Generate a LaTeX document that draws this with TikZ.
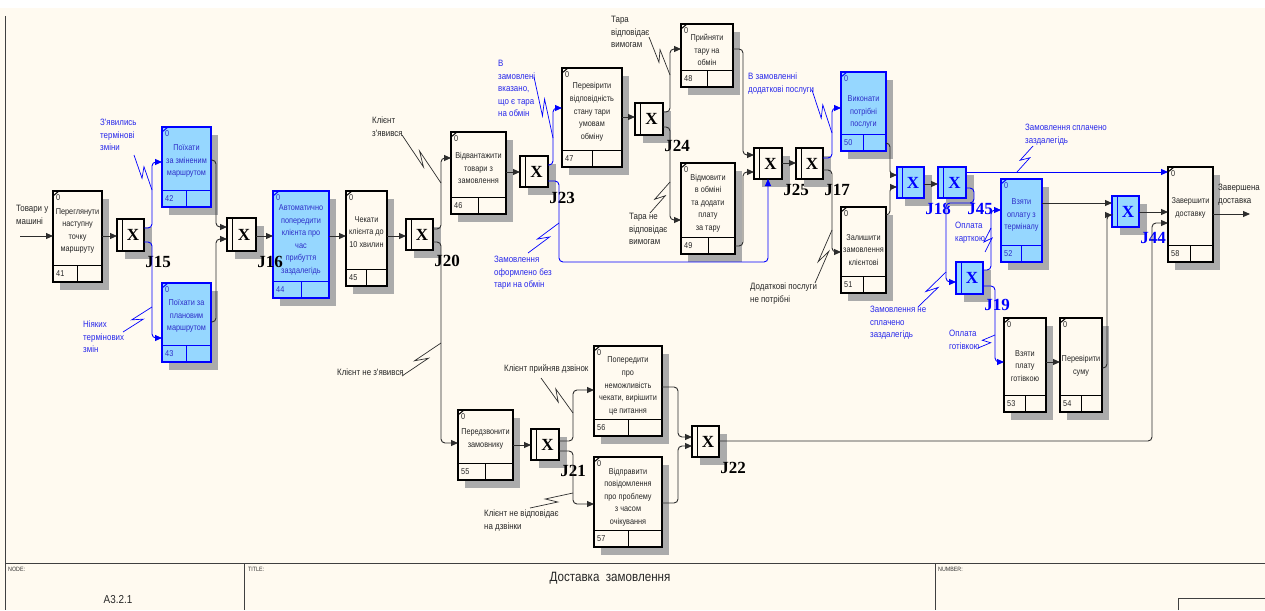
\documentclass[tikz,border=0pt]{standalone}
\usepackage{fontspec}
\setmainfont{Liberation Sans}
\newfontfamily\nfont{Liberation Sans}[FakeStretch=0.86]
\newfontfamily\jfont{Liberation Serif}
\usetikzlibrary{arrows.meta,calc,fit}

\definecolor{paper}{RGB}{255,250,240}
\definecolor{lineblk}{RGB}{45,45,45}
\definecolor{idblue}{RGB}{0,0,255}
\definecolor{boxblue}{RGB}{150,215,255}
\definecolor{txtblue}{RGB}{45,45,200}
\definecolor{lblblue}{RGB}{40,40,235}

\tikzset{
  frame/.style={draw=black!75, line width=1pt},
  shadowfill/.style={fill=black!33},
  uobplain/.style={draw=black, line width=1.2pt, fill=paper, inner sep=0pt, outer sep=0pt},
  uobblue/.style={draw=idblue, line width=1.2pt, fill=boxblue, inner sep=0pt, outer sep=0pt},
  uoblnplain/.style={draw=black, line width=1pt},
  uoblnblue/.style={draw=idblue, line width=1pt},
  uobtxtplain/.style={inner sep=0pt, font=\nfont\fontsize{8.5}{12.6}\selectfont, text=black!85},
  uobtxtblue/.style={inner sep=0pt, font=\nfont\fontsize{8.5}{12.6}\selectfont, text=txtblue},
  jnplain/.style={draw=black, line width=1.3pt, fill=paper, inner sep=0pt, outer sep=0pt},
  jnblue/.style={draw=idblue, line width=1.3pt, fill=boxblue, inner sep=0pt, outer sep=0pt},
  jxplain/.style={font=\jfont\bfseries\fontsize{17}{17}\selectfont, text=black, inner sep=0pt},
  jxblue/.style={font=\jfont\bfseries\fontsize{17}{17}\selectfont, text=idblue, inner sep=0pt},
  conn/.style={draw=lineblk, line width=0.9pt, rounded corners=4pt},
  bconn/.style={draw=idblue, line width=0.9pt, rounded corners=4pt},
  arr/.style={-{Triangle[length=7pt,width=6pt]}},
  lbl/.style={inner sep=0pt, align=left, anchor=north west, font=\nfont\fontsize{9.2}{12.5}\selectfont, text=black!85},
  blbl/.style={lbl, text=lblblue},
  sq/.style={draw=lineblk, line width=0.7pt},
  bsq/.style={draw=idblue, line width=0.7pt},
  hdr/.style={inner sep=0pt, anchor=north west, font=\nfont\fontsize{6.2}{7}\selectfont, text=black!80},
}

% unit of behaviour: [style]{name}{x1}{y1}{x2}{y2}{number}{text centre y}{text}
\newcommand\uob[9][plain]{%
  \fill[shadowfill] (#3+7,#4+8) rectangle (#5+7,#6+8);
  \node[uob#1, fit={(#3,#4) (#5,#6)}] (#2) {};
  \draw[uobln#1] (#3,#6-17) -- (#5,#6-17) ({(#3+#5)/2},#6-17) -- ({(#3+#5)/2},#6);
  \draw[uobln#1] (#3,#4+5) -- (#3+6,#4);
  \node[uobtxt#1, anchor=north west] at (#3+3,#4+3) {0};
  \node[uobtxt#1, anchor=west] at (#3+3,#6-8.5) {#7};
  \node[uobtxt#1, align=center] at ({(#3+#5)/2},#8) {#9};
}

% exclusive-or junction: [style]{name}{x1}{y1}{x2}{y2}{label}
\newcommand\junc[7][plain]{%
  \fill[shadowfill] (#3+8,#4+8) rectangle (#5+8,#6+8);
  \node[jn#1, fit={(#3,#4) (#5,#6)}] (#2) {};
  \draw[uobln#1] (#3+5,#4) -- (#3+5,#6);
  \node[jx#1] at ({(#3+#5)/2+2.5},{(#4+#6)/2}) {X};
  \node[jx#1] at (#5+14,#6+11) {#7};
}

% lightning-style leader from a label to its link
\newcommand\zz[3]{%
  \draw[#1] (#2) -- ($(#2)!0.62!(#3)!3.5pt!-90:(#3)$) -- ($(#2)!0.38!(#3)!3.5pt!90:(#3)$) -- (#3);
}

\begin{document}
\begin{tikzpicture}[x=1pt,y=-1pt]
\useasboundingbox (0,0) rectangle (1265,610);
\fill[white] (0,0) rectangle (1265,610);
\fill[paper] (0,8) rectangle (1265,610);

% frame and title block
\draw[frame] (5,16) -- (5,610);
\draw[frame] (5,563) -- (1265,563);
\draw[frame] (244,563) -- (244,610);
\draw[frame] (935,563) -- (935,610);
\draw[frame] (1178,610) -- (1178,598) -- (1265,598);
\node[hdr] (hnode) at (8,567) {NODE:};
\node[hdr] (htitle) at (248,567) {TITLE:};
\node[hdr] (hnum) at (938,567) {NUMBER:};
\node[inner sep=0pt, font=\nfont\fontsize{11.5}{12}\selectfont, text=black!85] (nodeid) at (118,600) {A3.2.1};
\node[inner sep=0pt, font=\nfont\fontsize{13.5}{14}\selectfont, text=black!85] (title) at (610,578) {Доставка\ \ замовлення};

% units of behaviour
\uob{b41}{53}{191}{102}{282}{41}{231}{Переглянути\\наступну\\точку\\маршруту}
\uob[blue]{b42}{162}{127}{211}{207}{42}{161}{Поїхати\\за зміненим\\маршрутом}
\uob[blue]{b43}{162}{283}{211}{362}{43}{316}{Поїхати за\\плановим\\маршрутом}
\uob[blue]{b44}{273}{191}{329}{298}{44}{240}{Автоматично\\попередити\\клієнта про\\час\\прибуття\\заздалегідь}
\uob{b45}{346}{191}{387}{286}{45}{232}{Чекати\\клієнта до\\10 хвилин}
\uob{b46}{451}{132}{506}{214}{46}{168}{Відвантажити\\товари з\\замовлення}
\uob{b47}{562}{68}{622}{167}{47}{112}{Перевірити\\відповідність\\стану тари\\умовам\\обміну}
\uob{b48}{681}{24}{733}{87}{48}{50}{Прийняти\\тару на\\обмін}
\uob{b49}{681}{163}{735}{254}{49}{203}{Відмовити\\в обміні\\та додати\\плату\\за тару}
\uob[blue]{b50}{841}{72}{886}{151}{50}{112}{Виконати\\потрібні\\послуги}
\uob{b51}{841}{207}{886}{293}{51}{250}{Залишити\\замовлення\\клієнтові}
\uob[blue]{b52}{1001}{179}{1042}{262}{52}{215}{Взяти\\оплату з\\терміналу}
\uob{b53}{1004}{318}{1046}{412}{53}{366}{Взяти\\плату\\готівкою}
\uob{b54}{1060}{318}{1102}{412}{54}{366}{Перевірити\\суму}
\uob{b55}{458}{410}{513}{480}{55}{439}{Передзвонити\\замовнику}
\uob{b56}{594}{346}{662}{436}{56}{386}{Попередити\\про\\неможливість\\чекати, вирішити\\це питання}
\uob{b57}{594}{457}{662}{547}{57}{497}{Відправити\\повідомлення\\про проблему\\з часом\\очікування}
\uob{b58}{1168}{167}{1213}{262}{58}{208}{Завершити\\доставку}

% junctions
\junc{j15}{117}{219}{144}{251}{J15}
\junc{j16}{227}{218}{256}{251}{J16}
\junc{j20}{406}{219}{433}{250}{J20}
\junc{j23}{520}{156}{548}{187}{J23}
\junc{j24}{635}{103}{663}{135}{J24}
\junc{j25}{754}{148}{782}{179}{J25}
\junc{j17}{796}{148}{823}{179}{J17}
\junc[blue]{j18}{897}{167}{924}{198}{J18}
\junc[blue]{j45}{938}{167}{966}{198}{J45}
\junc[blue]{j19}{956}{262}{983}{294}{J19}
\junc[blue]{j44}{1112}{196}{1139}{227}{J44}
\junc{j21}{531}{429}{559}{460}{J21}
\junc{j22}{692}{426}{719}{457}{J22}

% links
\coordinate (goods) at (20,236);
\coordinate (done) at (1250,214);
\draw[conn,arr] (goods) -- (b41.west |- goods);
\draw[conn,arr] (b41.east |- 0,236) -- (j15.west |- 0,236);
\draw[bconn,arr] (j15.east |- 0,228) -| (152,162) -- (b42.west |- 0,162);
\draw[bconn,arr] (j15.east |- 0,242) -| (152,338) -- (b43.west |- 0,338);
\draw[conn,arr] (b42.east |- 0,160) -| (216,227) -- (j16.west |- 0,227);
\draw[conn,arr] (b43.east |- 0,322) -| (216,239) -- (j16.west |- 0,239);
\draw[conn,arr] (j16.east |- 0,236) -- (b44.west |- 0,236);
\draw[conn,arr] (b44.east |- 0,236) -- (b45.west |- 0,236);
\draw[conn,arr] (b45.east |- 0,236) -- (j20.west |- 0,236);
\draw[conn,arr] (j20.east |- 0,229) -| (441,158) -- (b46.west |- 0,158);
\draw[conn,arr] (j20.east |- 0,242) -| (441,443) -- (b55.west |- 0,443);
\draw[conn,arr] (b46.east |- 0,172) -- (j23.west |- 0,172);
\draw[bconn,arr] (j23.east |- 0,165) -| (553,108) -- (b47.west |- 0,108);
\draw[bconn,arr] (j23.east |- 0,181) -| (559,262) -| (j25.south);
\draw[conn,arr] (b47.east |- 0,117) -- (j24.west |- 0,117);
\draw[conn,arr] (j24.east |- 0,112) -| (670,49) -- (b48.west |- 0,49);
\draw[conn,arr] (j24.east |- 0,127) -| (670,220) -- (b49.west |- 0,220);
\draw[conn,arr] (b48.east |- 0,49) -| (743,155) -- (j25.west |- 0,155);
\draw[conn,arr] (b49.east |- 0,246) -| (743,172) -- (j25.west |- 0,172);
\draw[conn,arr] (j25.east |- 0,163) -- (j17.west |- 0,163);
\draw[bconn,arr] (j17.east |- 0,158) -| (832,108) -- (b50.west |- 0,108);
\draw[conn,arr] (j17.east |- 0,170) -| (832,252) -- (b51.west |- 0,252);
\draw[conn,arr] (b50.east |- 0,143) -| (890,175) -- (j18.west |- 0,175);
\draw[conn,arr] (b51.east |- 0,215) -| (890,187) -- (j18.west |- 0,187);
\draw[conn,arr] (j18.east |- 0,184) -- (j45.west |- 0,184);
\draw[bconn,arr] (j45.east |- 0,172) -- (b58.west |- 0,172);
\draw[bconn,arr] (j45.east |- 0,188) -| (974,203) -| (946,282) -- (j19.west |- 0,282);
\draw[bconn,arr] (j19.east |- 0,270) -| (991,210) -- (b52.west |- 0,210);
\draw[bconn,arr] (j19.east |- 0,286) -| (995,362) -- (b53.west |- 0,362);
\draw[conn,arr] (b52.east |- 0,203) -- (j44.west |- 0,203);
\draw[conn,arr] (b53.east |- 0,362) -- (b54.west |- 0,362);
\draw[conn,arr] (b54.east |- 0,368) -| (1107,215) -- (j44.west |- 0,215);
\draw[conn,arr] (j44.east |- 0,212) -- (b58.west |- 0,212);
\draw[conn,arr] (j22.east |- 0,441) -| (1152,223) -- (b58.west |- 0,223);
\draw[conn,arr] (b58.east |- done) -- (done);
\draw[conn,arr] (b55.east |- 0,445) -- (j21.west |- 0,445);
\draw[conn,arr] (j21.east |- 0,441) -| (573,390) -- (b56.west |- 0,390);
\draw[conn,arr] (j21.east |- 0,451) -| (573,504) -- (b57.west |- 0,504);
\draw[conn,arr] (b56.east |- 0,387) -| (678,437) -- (j22.west |- 0,437);
\draw[conn,arr] (b57.east |- 0,503) -| (678,446) -- (j22.west |- 0,446);

% link labels
\node[lbl] (t1) at (16,205) {Товари у\\машині};
\node[blbl] (t2) at (100,119) {З'явились\\термінові\\зміни};
\node[blbl] (t3) at (83,321) {Ніяких\\термінових\\змін};
\node[lbl] (t4) at (372,117) {Клієнт\\з'явився};
\node[lbl] (t5) at (337,369) {Клієнт не з'явився};
\node[blbl] (t6) at (498,60) {В\\замовлені\\вказано,\\що є тара\\на обмін};
\node[blbl] (t7) at (494,256) {Замовлення\\оформлено без\\тари на обмін};
\node[lbl] (t8) at (611,16) {Тара\\відповідає\\вимогам};
\node[lbl] (t9) at (629,213) {Тара не\\відповідає\\вимогам};
\node[blbl] (t10) at (748,73) {В замовленні\\додаткові послуги};
\node[lbl] (t11) at (750,283) {Додаткові послуги\\не потрібні};
\node[blbl] (t12) at (1025,124) {Замовлення сплачено\\заздалегідь};
\node[blbl] (t13) at (955,222) {Оплата\\карткою};
\node[blbl] (t14) at (870,306) {Замовлення не\\сплачено\\заздалегідь};
\node[blbl] (t15) at (949,330) {Оплата\\готівкою};
\node[lbl] (t16) at (504,364) {Клієнт прийняв дзвінок};
\node[lbl] (t17) at (484,510) {Клієнт не відповідає\\на дзвінки};
\node[lbl] (t18) at (1218,184) {Завершена\\доставка};

% leaders
\zz{bsq}{134,155}{152,190}
\zz{bsq}{123,332}{152,307}
\zz{sq}{402,135}{441,183}
\zz{sq}{402,376}{441,343}
\zz{bsq}{534,77}{553,138}
\zz{bsq}{528,253}{559,223}
\zz{sq}{649,37}{670,75}
\zz{sq}{650,213}{670,182}
\zz{bsq}{812,90}{832,133}
\zz{sq}{815,283}{832,230}
\zz{bsq}{1033,146}{1017,172}
\zz{bsq}{918,307}{946,272}
\zz{bsq}{985,252}{991,228}
\zz{bsq}{978,348}{995,335}
\zz{sq}{541,378}{573,413}
\zz{sq}{530,508}{573,493}
\end{tikzpicture}
\end{document}
